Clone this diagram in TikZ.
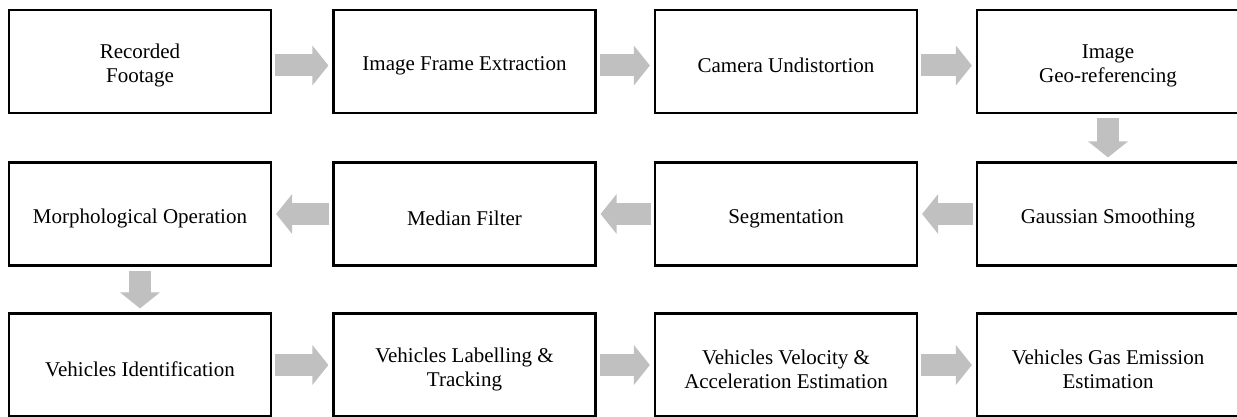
\documentclass[tikz,border=0pt]{standalone}
\usepackage{fontspec}
\setmainfont{Liberation Serif}
\usetikzlibrary{arrows.meta}
\definecolor{arrowgray}{RGB}{192,192,192}
\newcommand\tstrut{\rule{0pt}{23pt}}
\tikzset{
  stepbox/.style={draw=black, line width=2.2pt, fill=white, minimum width=262pt, minimum height=103pt,
    inner sep=0pt, align=center, font=\fontsize{21}{24}\selectfont},
  conn/.style={draw=arrowgray, line width=22pt, -{Triangle[length=16pt,width=39pt]}}
}
\begin{document}
\begin{tikzpicture}[x=1pt,y=-1pt]
\useasboundingbox (0,0) rectangle (1237,417);
% row 1
\node[stepbox] (rec) at (140,61.5) {\tstrut Recorded\\Footage};
\node[stepbox] (ife) at (464.5,61.5) {\tstrut Image Frame Extraction};
\node[stepbox] (cam) at (786,61.5) {\tstrut Camera Undistortion};
\node[stepbox] (geo) at (1108,61.5) {\tstrut Image\\Geo-referencing};
% row 2
\node[stepbox] (mor) at (140,214) {\tstrut Morphological Operation};
\node[stepbox] (med) at (464.5,214) {\tstrut Median Filter};
\node[stepbox] (seg) at (786,214) {\tstrut Segmentation};
\node[stepbox] (gau) at (1108,214) {\tstrut Gaussian Smoothing};
% row 3
\node[stepbox] (vid) at (140,365) {\tstrut Vehicles Identification};
\node[stepbox] (vlt) at (464.5,365) {\tstrut Vehicles Labelling \&\\Tracking};
\node[stepbox] (vva) at (786,365) {\tstrut Vehicles Velocity \&\\Acceleration Estimation};
\node[stepbox] (vge) at (1108,365) {\tstrut Vehicles Gas Emission\\Estimation};
% connectors
\draw[conn] ([xshift=3pt,yshift=-4pt]rec.east) -- ([xshift=-4pt,yshift=-4pt]ife.west);
\draw[conn] ([xshift=3pt,yshift=-4pt]ife.east) -- ([xshift=-4pt,yshift=-4pt]cam.west);
\draw[conn] ([xshift=3pt,yshift=-4pt]cam.east) -- ([xshift=-4pt,yshift=-4pt]geo.west);
\draw[conn] ([yshift=-4pt]geo.south) -- ([yshift=4pt]gau.north);
\draw[conn] ([xshift=-3pt]gau.west) -- ([xshift=4pt]seg.east);
\draw[conn] ([xshift=-3pt]seg.west) -- ([xshift=4pt]med.east);
\draw[conn] ([xshift=-3pt]med.west) -- ([xshift=4pt]mor.east);
\draw[conn] ([yshift=-4pt]mor.south) -- ([yshift=4pt]vid.north);
\draw[conn] ([xshift=3pt]vid.east) -- ([xshift=-4pt]vlt.west);
\draw[conn] ([xshift=3pt]vlt.east) -- ([xshift=-4pt]vva.west);
\draw[conn] ([xshift=3pt]vva.east) -- ([xshift=-4pt]vge.west);
\end{tikzpicture}
\end{document}
